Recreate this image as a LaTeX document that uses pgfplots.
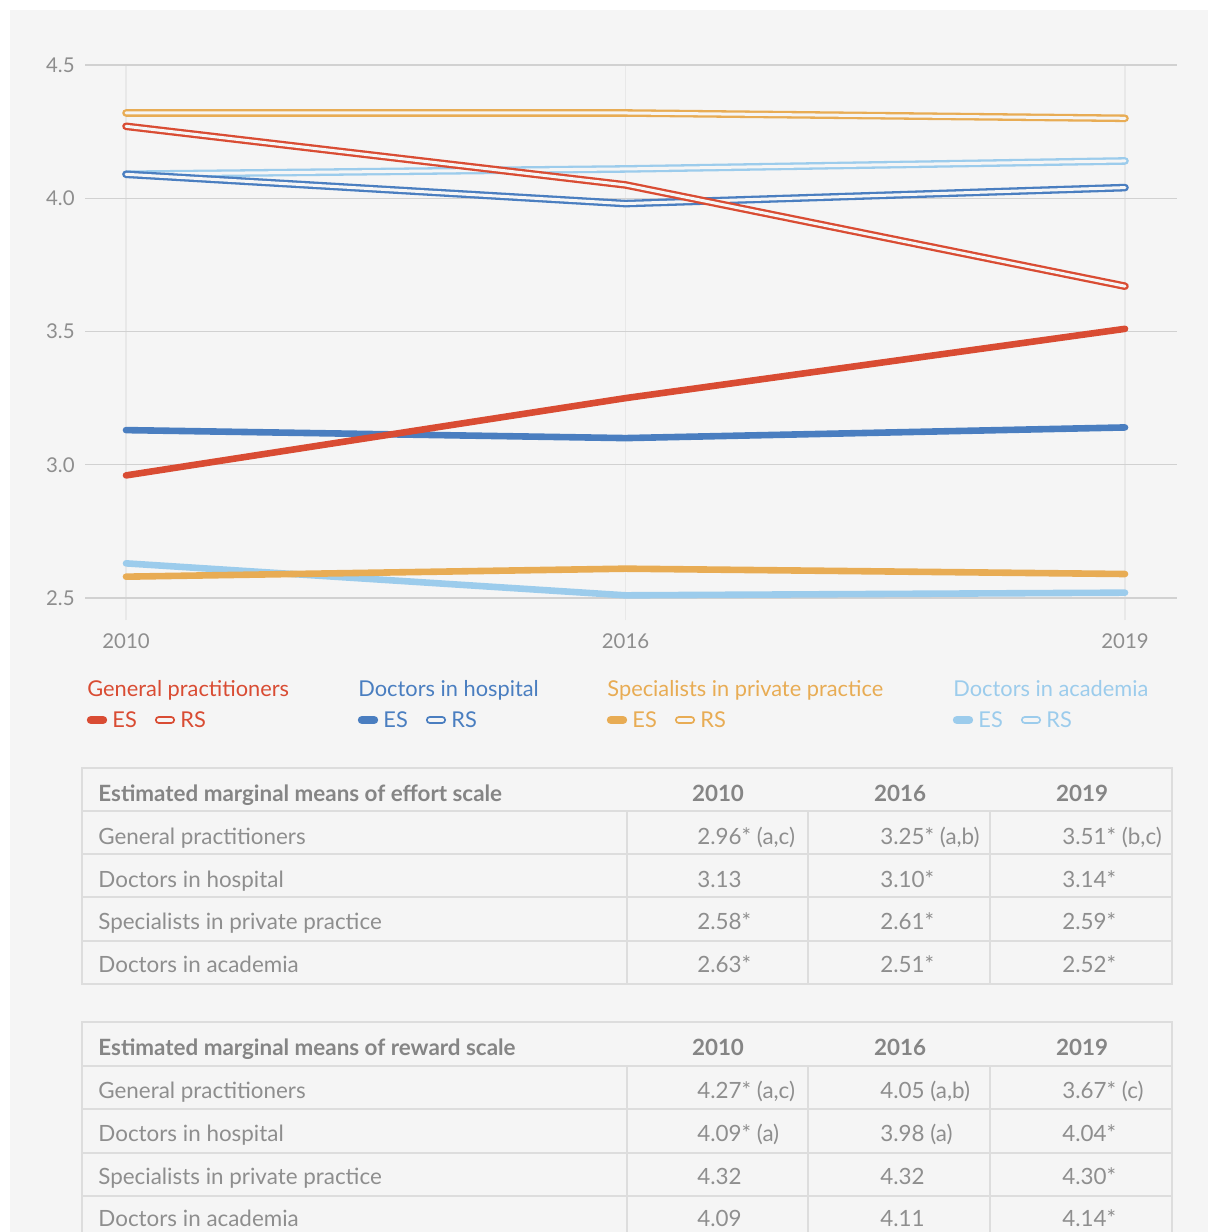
\documentclass[border=0pt]{standalone}
\usepackage{pgfplots}
\pgfplotsset{compat=1.18}
\usepackage{fontspec}
\setmainfont{Lato}
\definecolor{panel}{HTML}{F5F5F5}
\definecolor{cGP}{HTML}{D94C33}
\definecolor{cDH}{HTML}{4A7EC0}
\definecolor{cSP}{HTML}{E8AC54}
\definecolor{cDA}{HTML}{9CCCEC}
\definecolor{txt}{HTML}{8E8E8E}
\definecolor{hdr}{HTML}{858585}
\definecolor{rulec}{HTML}{DDDDDD}
\newcommand\lf{\fontsize{10.9}{13}\selectfont}
\newcommand\tf{\fontsize{11.2}{13}\selectfont}
\begin{document}
\begin{tikzpicture}
\path[use as bounding box] (0pt,0pt) rectangle (604pt,-616pt);
\begin{scope}[x=0.5pt,y=-0.5pt]
\fill[white] (0,0) rectangle (1208,1232);
\fill[panel] (10,10) rectangle (1208,1232);
\end{scope}
\begin{axis}[at={(42.5pt,-310pt)}, anchor=south west, scale only axis,
  width=546pt, height=277.5pt,
  xmin=-0.0821, xmax=2.1041, ymin=2.4174, ymax=4.5,
  xtick={0,1,2}, xticklabels={2010,2016,2019},
  ytick={2.5,3,3.5,4,4.5}, yticklabels={2.5,3.0,3.5,4.0,4.5},
  axis line style={draw=none}, major tick length=0pt,
  xmajorgrids, ymajorgrids,
  x grid style={color=black!9, line width=0.6pt},
  y grid style={color=black!18, line width=0.6pt},
  /pgf/number format/assume math mode=true,
  ticklabel style={font=\fontsize{10.2}{12}\selectfont, text=txt},
  yticklabel style={anchor=east, inner sep=0pt, xshift=-5pt},
  xticklabel style={anchor=north, inner sep=0pt, yshift=-6.5pt},
  clip=false,
  es/.style={line width=3.3pt, line cap=round, line join=round},
  rs/.style={line width=1.15pt, double=panel, double distance=1.5pt, line cap=round, line join=round},
]
% Effort scale (ES)
\addplot[es, cDA] coordinates {(0,2.63) (1,2.51) (2,2.52)};
\addplot[es, cSP] coordinates {(0,2.58) (1,2.61) (2,2.59)};
\addplot[es, cDH] coordinates {(0,3.13) (1,3.10) (2,3.14)};
\addplot[es, cGP] coordinates {(0,2.96) (1,3.25) (2,3.51)};
% Reward scale (RS)
\addplot[rs, cDA] coordinates {(0,4.09) (1,4.11) (2,4.14)};
\addplot[rs, cSP] coordinates {(0,4.32) (1,4.32) (2,4.30)};
\addplot[rs, cDH] coordinates {(0,4.09) (1,3.98) (2,4.04)};
\addplot[rs, cGP] coordinates {(0,4.27) (1,4.05) (2,3.67)};
\end{axis}
\begin{scope}[x=0.5pt,y=-0.5pt]
% Legend
\foreach \xo/\c/\t in {87/cGP/General practitioners, 358/cDH/Doctors in hospital, 607/cSP/Specialists in private practice, 953/cDA/Doctors in academia}{
  \node[anchor=base west, inner sep=0pt, text=\c, font=\lf] at (\xo,696) {\t};
  \draw[\c, line width=4.2pt, line cap=round] (\xo+4,720) -- (\xo+16,720);
  \node[anchor=base west, inner sep=0pt, text=\c, font=\lf] at (\xo+25,727.5) {ES};
  \draw[\c, line width=1pt, double=panel, double distance=2.1pt, line cap=round] (\xo+72,720) -- (\xo+84,720);
  \node[anchor=base west, inner sep=0pt, text=\c, font=\lf] at (\xo+93,727.5) {RS};
}
% Effort table
\draw[rulec, line width=0.6pt] (82,768) rectangle (1172,984);
\foreach \y in {811,854,897,941} \draw[rulec, line width=0.6pt] (82,\y) -- (1172,\y);
\foreach \x in {627,808,990} \draw[rulec, line width=0.6pt] (\x,811) -- (\x,984);
\node[anchor=base west, inner sep=0pt, text=hdr, font=\bfseries\tf] at (98,801) {Estimated marginal means of effort scale};
\foreach \x/\t in {718/2010, 900/2016, 1082/2019}
  \node[anchor=base, inner sep=0pt, text=hdr, font=\bfseries\tf] at (\x,801) {\t};
\foreach \y/\a/\b/\cc/\d in {844/General practitioners/{2.96* (a,c)}/{3.25* (a,b)}/{3.51* (b,c)},
  887/Doctors in hospital/3.13/3.10*/3.14*,
  929/Specialists in private practice/2.58*/2.61*/2.59*,
  972/Doctors in academia/2.63*/2.51*/2.52*}{
  \node[anchor=base west, inner sep=0pt, text=txt, font=\tf] at (98,\y) {\a};
  \node[anchor=base west, inner sep=0pt, text=txt, font=\tf] at (697,\y) {\b};
  \node[anchor=base west, inner sep=0pt, text=txt, font=\tf] at (880,\y) {\cc};
  \node[anchor=base west, inner sep=0pt, text=txt, font=\tf] at (1062,\y) {\d};
}
% Reward table
\draw[rulec, line width=0.6pt] (82,1250) -- (82,1022) -- (1172,1022) -- (1172,1250);
\foreach \y in {1066,1109,1153,1196} \draw[rulec, line width=0.6pt] (82,\y) -- (1172,\y);
\foreach \x in {627,808,990} \draw[rulec, line width=0.6pt] (\x,1066) -- (\x,1250);
\node[anchor=base west, inner sep=0pt, text=hdr, font=\bfseries\tf] at (98,1055) {Estimated marginal means of reward scale};
\foreach \x/\t in {718/2010, 900/2016, 1082/2019}
  \node[anchor=base, inner sep=0pt, text=hdr, font=\bfseries\tf] at (\x,1055) {\t};
\foreach \y/\a/\b/\cc/\d in {1098/General practitioners/{4.27* (a,c)}/{4.05 (a,b)}/{3.67* (c)},
  1141/Doctors in hospital/{4.09* (a)}/{3.98 (a)}/4.04*,
  1184/Specialists in private practice/4.32/4.32/4.30*,
  1226/Doctors in academia/4.09/4.11/4.14*}{
  \node[anchor=base west, inner sep=0pt, text=txt, font=\tf] at (98,\y) {\a};
  \node[anchor=base west, inner sep=0pt, text=txt, font=\tf] at (697,\y) {\b};
  \node[anchor=base west, inner sep=0pt, text=txt, font=\tf] at (880,\y) {\cc};
  \node[anchor=base west, inner sep=0pt, text=txt, font=\tf] at (1062,\y) {\d};
}
\end{scope}
\end{tikzpicture}
\end{document}
